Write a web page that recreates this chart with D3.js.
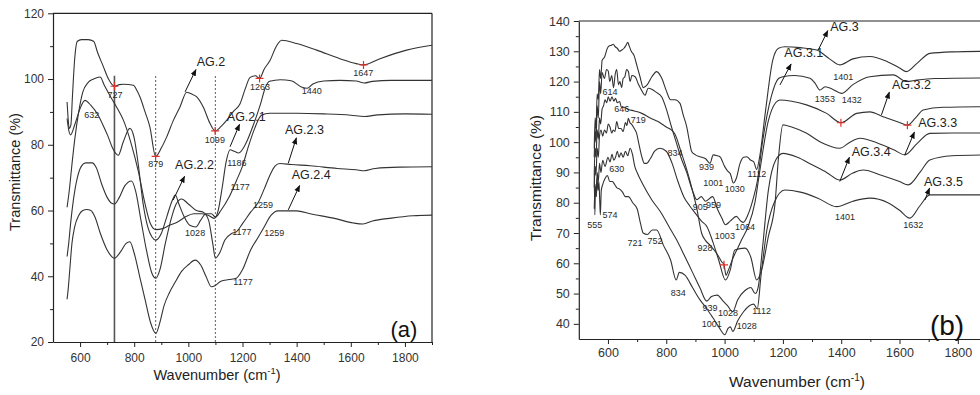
<!DOCTYPE html>
<html><head><meta charset="utf-8">
<script src="https://cdn.jsdelivr.net/npm/d3@7"></script>
<style>
body{margin:0;background:#fff;}
svg{display:block;}
text{font-family:Arial,"Liberation Sans",sans-serif;}
</style>
</head><body>
<svg id="chart" width="980" height="395"></svg>
<script>
// ---------- Panel (a) data: [wavenumber, transmittance] ----------
const ag2 = [[552,93],[555,89],[560,85],[566,86],[572,95],[580,106],[590,111.5],[605,112],[630,112],[650,111.5],[665,108],[685,104],[705,100],[727,97.8],[745,98.3],[760,98.4],[797,98.1],[810,96.5],[821,94.6],[840,90],[858,85.4],[879,76.5],[900,79],[920,82.4],[945,87.5],[969,91.5],[994,96],[1010,95.5],[1031,94.6],[1055,91.5],[1080,86.5],[1099,84.2],[1120,85.5],[1142,87.5],[1165,90],[1191,92.5],[1210,97],[1228,100.5],[1248,101],[1263,100.2],[1280,103],[1302,105.7],[1325,110],[1345,111.8],[1400,110.8],[1474,108.8],[1560,106.2],[1620,104.7],[1647,104.3],[1708,106.2],[1806,108.8],[1900,110.3]];
const ag21 = [[552,61],[560,66],[570,74],[580,81.4],[595,90],[610,96],[630,99],[650,100],[674,100.6],[690,98],[710,95],[727,92.6],[745,90],[760,87.5],[790,80],[815,72],[840,62],[860,56],[880,54.2],[905,54.5],[930,55.5],[960,56.5],[990,58.1],[1020,59],[1050,59],[1075,58.5],[1095,57.6],[1110,60],[1125,67],[1140,75],[1154,78.5],[1170,78],[1186,77.5],[1210,80],[1240,86],[1265,92],[1285,97.5],[1300,99.3],[1340,99.8],[1380,99.5],[1420,97.5],[1440,97.2],[1460,98.5],[1500,99.4],[1560,99.6],[1620,99.4],[1650,98.8],[1680,99.3],[1750,99.6],[1900,99.6]];
const ag22 = [[552,88],[558,84.5],[565,83],[580,86],[600,91],[618,93.5],[640,92],[667,89],[690,85],[704,82.4],[720,79],[741,76.8],[760,81],[784,85],[800,82],[815,74],[833,62],[850,55],[865,52],[880,51],[900,53],[920,58],[940,63],[952,64.7],[965,62],[985,58],[1005,55.5],[1028,55],[1045,57],[1065,59],[1085,59],[1100,58],[1120,60],[1150,64],[1177,69],[1200,73.5],[1220,79],[1245,85],[1270,89],[1300,89.6],[1400,89.6],[1500,89.4],[1600,89],[1650,88.6],[1700,89.1],[1800,89.4],[1900,89.3]];
const ag23 = [[552,46],[558,50],[565,56],[575,63],[590,70],[605,73.5],[620,74.5],[645,74.5],[660,73],[680,68],[700,64],[715,62.3],[727,62],[745,64],[765,67.5],[790,69],[805,66],[825,57],[845,48],[865,41],[880,39.4],[895,42],[915,50],[935,57],[955,62],[975,63.5],[1000,62],[1030,60],[1055,59.5],[1075,57],[1090,50],[1100,45.5],[1115,47],[1135,51],[1160,53],[1177,53.5],[1200,56],[1230,59.5],[1259,62.6],[1280,66.5],[1300,70.5],[1320,73.5],[1338,74.3],[1380,74],[1450,73.6],[1550,72.8],[1620,72.4],[1650,72.1],[1690,72.8],[1780,73.2],[1900,73.3]];
const ag24 = [[552,33],[556,36],[562,42],[570,50],[580,55],[595,58.5],[610,60],[625,60.3],[640,60],[655,58],[675,53],[700,48],[727,45.5],[750,47.5],[770,50],[784,50.5],[800,47],[820,40],[840,33],[860,26],[880,22.6],[895,26],[910,31],[930,35],[950,38],[975,41.5],[1000,43.5],[1025,44.9],[1045,43.5],[1065,40],[1085,36.8],[1100,37.2],[1120,38.5],[1150,39],[1177,39.4],[1200,42],[1230,48],[1259,52],[1280,55],[1305,58.5],[1331,59.9],[1400,59.9],[1450,59],[1540,57.6],[1610,56.2],[1645,55.9],[1680,56.8],[1750,57.7],[1830,58.4],[1900,58.6]];
const seriesA = ["AG.2","AG.2.1","AG.2.2","AG.2.3","AG.2.4"];

// ---------- Panel (b) data ----------
const ag3 = [[553,98],[556,108],[559,104],[563,116],[567,114],[571,124],[575,121],[580,127],[588,128],[598,131],[605,131.8],[612,132],[618,132.3],[625,131.5],[632,131],[640,130],[647,130.4],[655,131],[662,132],[668,133],[672,132],[680,130],[690,128.5],[700,125],[710,121.6],[721,118],[735,119],[750,121.5],[767,123.3],[785,121],[800,117],[815,114],[830,114],[847,112.8],[858,109],[870,105.1],[880,100],[887,96.9],[900,95.8],[915,95.2],[935,94.5],[950,93],[961,95.8],[975,95.5],[984,95.2],[1000,92],[1010,90.5],[1020,89.5],[1030,86.5],[1040,88],[1053,93],[1065,95],[1076,95.2],[1090,94],[1100,93.5],[1110,91],[1120,95],[1140,110],[1165,127],[1185,131],[1207,131.5],[1260,131.2],[1316,130.4],[1360,127.5],[1395,125.5],[1440,127.5],[1498,128.3],[1560,126.5],[1600,124.5],[1624,123.3],[1660,126],[1704,129.3],[1780,129.8],[1900,130]];
const ag31 = [[553,95],[556,104],[559,100],[563,112],[567,108],[571,120],[575,116],[580,123],[588,121],[595,124],[601,123.5],[606,120],[613,122],[619,118],[625,122.5],[630,124],[636,119],[641,120],[647,118],[652,121],[658,121.6],[664,124],[670,123.3],[676,120],[682,122],[693,121.6],[705,119],[716,117],[727,115.5],[738,117.8],[750,117.5],[765,116.5],[784,115],[800,111],[818,105],[834,100],[850,95],[870,90],[890,84],[905,81],[920,82],[935,80.5],[959,82],[975,78],[990,75],[1003,72.7],[1020,74],[1040,75.5],[1055,74],[1064,73.5],[1080,76],[1100,82],[1112,87],[1130,100],[1160,115],[1185,121],[1200,121.6],[1240,122],[1293,121.1],[1310,119.5],[1327,117.2],[1345,118.3],[1370,117.5],[1401,116.1],[1440,119],[1498,121.6],[1578,122.2],[1624,120],[1660,120.5],[1720,121],[1900,121.2]];
const ag32 = [[553,90],[556,98],[559,95],[563,104],[567,101],[571,108],[575,106],[580,111],[585,112],[590,114],[596,113],[601,115],[607,113.5],[614,115],[620,113.5],[626,114.5],[632,113],[640,113.4],[646,111.5],[655,111.5],[670,110.8],[690,110.3],[716,109.5],[745,108],[772,106.8],[800,105],[818,104],[830,102.6],[850,97],[870,91],[890,84],[905,78],[921,70],[935,67.5],[950,66],[975,63],[990,60.5],[998,59.5],[1005,56],[1012,57.5],[1030,62],[1045,65],[1058,67.7],[1080,72],[1104,80],[1120,90],[1150,107],[1175,113],[1190,113.9],[1230,113.5],[1281,112.3],[1350,109.5],[1399,106.4],[1453,109.5],[1498,110],[1544,108.4],[1600,106.5],[1627,105.6],[1655,108],[1681,110.6],[1750,111.5],[1900,111.7]];
const ag33 = [[553,85],[556,92],[559,89],[563,98],[567,95],[571,102],[576,104],[582,102],[588,104],[595,103],[601,106],[607,105],[613,103],[618,104],[624,103.5],[630,106.8],[637,104.5],[645,104.5],[652,103.5],[660,106.5],[665,105.5],[670,107.9],[675,106.5],[680,106],[690,104.5],[698,103],[707,99],[716,95.2],[725,93],[733,93],[745,94.5],[760,97],[778,98],[800,97],[820,93],[840,87],[860,82],[880,79],[900,76.5],[920,74],[940,72],[960,67],[980,61],[1003,54.5],[1020,58],[1035,64.4],[1070,65],[1090,62],[1110,54.5],[1127,57.8],[1150,68.8],[1173,79.8],[1185,95],[1200,105.7],[1230,105],[1280,103],[1330,100],[1395,98],[1430,100],[1464,101.3],[1530,99.5],[1580,97.5],[1618,95.8],[1660,99.5],[1704,102.9],[1780,103],[1900,103]];
const ag34 = [[553,78],[556,86],[559,82],[563,90],[567,87],[571,93],[576,90],[582,94],[590,92],[600,95],[607,93.5],[614,96],[620,94],[626,95],[632,97],[638,95],[645,96.5],[652,95],[660,97],[668,95.5],[676,98],[684,96],[692,92],[700,90],[720,86],[750,81],[780,77],[810,72],[834,68],[860,63],[890,57],[915,52],[939,47.5],[955,49],[975,49.5],[995,47.5],[1010,46],[1028,44],[1045,48],[1070,51],[1090,52],[1105,50],[1115,52],[1130,65],[1150,84],[1175,94],[1200,96.3],[1250,95],[1300,92.5],[1350,90],[1395,87.5],[1440,89.8],[1475,90.8],[1540,89],[1600,87],[1630,85.9],[1670,90],[1704,94.1],[1780,95.5],[1900,95.8]];
const ag35 = [[553,90],[555,76],[557,84],[560,82],[563,88],[566,84],[569,87],[572,80],[574,76],[577,84],[582,86],[590,88],[598,89],[606,87],[615,87],[623,86],[630,85],[640,84.5],[650,83.5],[660,82],[670,82],[685,80],[700,78],[712,73],[721,70],[735,69.5],[752,71],[767,71],[790,66],[815,61],[834,54.5],[845,57],[865,56],[890,52],[915,48],[939,45],[960,42],[980,39],[1001,36.4],[1012,38.5],[1020,39],[1028,37.5],[1045,41],[1065,44],[1085,46],[1100,46.5],[1112,45],[1125,56],[1145,71],[1170,80],[1207,84.2],[1260,83.5],[1320,81.5],[1384,78.7],[1440,80.5],[1498,81.5],[1560,80],[1600,77.5],[1635,74.9],[1670,79],[1704,82.6],[1800,82.6],[1900,82.6]];
const seriesB = ["AG.3","AG.3.1","AG.3.2","AG.3.3","AG.3.4","AG.3.5"];

// ---------- ticks ----------
const xTicks = [600,800,1000,1200,1400,1600,1800];
const xMinor = [700,900,1100,1300,1500,1700,1900];
const yTicksA = [20,40,60,80,100,120];
const yMinorA = [30,50,70,90,110];
const yTicksB = [40,50,60,70,80,90,100,110,120,130,140];
const yMinorB = [45,55,65,75,85,95,105,115,125,135];

// ---------- annotations (data units) ----------
const peakLabelsA = [["727",729,95.1],["879",880,74.2],["1099",1098,81.4],["1263",1265,97.7],["1647",1646,101.9],["1440",1456,96.4],["632",643,89.1],["1186",1179,74.5],["1177",1191,67.2],["1028",1025,53.3],["1177",1198,53.5],["1259",1276,61.7],["1259",1317,53.2],["1177",1202,38.2]];
const crossesA = [[727,97.8],[879,76.5],[1099,84.2],[1263,100.2],[1647,104.3]];
const vLinesA = [[727,"solid"],[879,"dot"],[1100,"dot"]];
// name, text x, text y, arrow from x, y, to x, y
const nameTagsA = [["AG.2",1031,105.3,988,96.1,1028,102.9],["AG.2.1",1142,88.5,1154,79.4,1189,86.2],["AG.2.2",951,73.9,944,63.2,986,70.4],["AG.2.3",1357,84.5,1369,74.4,1399,82.1],["AG.2.4",1382,70.8,1369,60.2,1411,67.6]];

const peakLabelsB = [["614",607,116.7],["646",647,111],["719",704,107.3],["834",830,96.5],["939",938,91.7],["630",630,91.2],["1001",961,86.4],["1030",1035,84.5],["1112",1111,89.5],["905",917,78.6],["959",962,79.2],["555",555,72.7],["574",607,76],["721",693,66.8],["752",761,67.4],["928",933,65.2],["1003",1001,69.1],["1064",1070,72.1],["834",841,50.3],["939",950,45.4],["1028",1012,43.5],["1001",956,40],["1028",1076,39.3],["1112",1127,44.3],["1401",1413,75.2],["1632",1647,72.7],["1401",1407,121.4],["1353",1344,114.2],["1432",1436,113.9]];
const crossesB = [[998,59.5],[1399,106.4],[1627,105.6]];
const nameTagsB = [["AG.3",1362,138.1,1321,130.4,1354,136.8],["AG.3.1",1205,129.3,1190,118.9,1228,125.8],["AG.3.2",1574,118.9,1538,109,1565,116.5],["AG.3.3",1664,106.2,1618,95.8,1651,103.3],["AG.3.4",1436,96.9,1395,87,1428,95],["AG.3.5",1684,87,1687,80.9,1703,84.8]];

const svg = d3.select("#chart");
const ink = "#333";

svg.append("defs").append("marker")
  .attr("id","arr").attr("viewBox","0 0 10 10").attr("refX",9).attr("refY",5)
  .attr("markerWidth",7).attr("markerHeight",7).attr("orient","auto")
  .append("path").attr("d","M0,1 L10,5 L0,9 Z").attr("fill","#111");

function panel(cfg){
  const g = svg.append("g");
  const x = d3.scaleLinear().domain(cfg.xd).range(cfg.xr);
  const y = d3.scaleLinear().domain(cfg.yd).range(cfg.yr);
  const clipId = "clip"+cfg.id;
  svg.select("defs").append("clipPath").attr("id",clipId).append("rect")
    .attr("x",cfg.xr[0]).attr("y",cfg.yr[1]).attr("width",cfg.xr[1]-cfg.xr[0]).attr("height",cfg.yr[0]-cfg.yr[1]);

  // frame
  g.append("line").attr("x1",cfg.xr[0]).attr("x2",Math.min(cfg.xr[1],980)).attr("y1",cfg.yr[1]).attr("y2",cfg.yr[1]).attr("stroke","#222").attr("stroke-width",1.2);
  if (cfg.xr[1] < 980) g.append("line").attr("x1",cfg.xr[1]).attr("x2",cfg.xr[1]).attr("y1",cfg.yr[1]).attr("y2",cfg.yr[0]).attr("stroke","#222").attr("stroke-width",1.2);

  const fmt = d3.format("d");
  // axes
  g.append("g").attr("transform",`translate(0,${cfg.yr[0]})`)
    .call(d3.axisBottom(x).tickValues(xTicks).tickFormat(fmt).tickSize(5).tickPadding(cfg.xpad).tickSizeOuter(0));
  g.append("g").attr("transform",`translate(0,${cfg.yr[0]})`)
    .call(d3.axisBottom(x).tickValues(xMinor.filter(v=>x(v)<980)).tickSize(3).tickFormat("").tickSizeOuter(0))
    .select(".domain").remove();
  g.append("g").attr("transform",`translate(${cfg.xr[0]},0)`)
    .call(d3.axisLeft(y).tickValues(cfg.yt).tickFormat(fmt).tickSize(5).tickPadding(cfg.ypad).tickSizeOuter(0));
  g.append("g").attr("transform",`translate(${cfg.xr[0]},0)`)
    .call(d3.axisLeft(y).tickValues(cfg.ym).tickSize(3).tickFormat("").tickSizeOuter(0))
    .select(".domain").remove();
  g.selectAll(".domain").attr("stroke","#222").attr("stroke-width",1.2);
  g.selectAll(".tick line").attr("stroke","#222");
  g.selectAll(".tick text").attr("font-size",cfg.tfs).attr("fill","#333").attr("font-family","Arial, 'Liberation Sans', sans-serif");

  // titles
  const xt = g.append("text").attr("x",cfg.xtitle[0]).attr("y",cfg.xtitle[1]).attr("text-anchor","middle")
    .attr("font-size",cfg.titleFs).attr("fill","#222");
  xt.append("tspan").text("Wavenumber (cm");
  xt.append("tspan").text("-1").attr("font-size",cfg.titleFs*0.65).attr("dy",-cfg.titleFs*0.4);
  xt.append("tspan").text(")").attr("dy",cfg.titleFs*0.4);
  g.append("text").attr("transform",`translate(${cfg.ytitle[0]},${cfg.ytitle[1]}) rotate(-90)`)
    .attr("text-anchor","middle").attr("dominant-baseline","central")
    .attr("font-size",cfg.titleFs).attr("fill","#222").text("Transmittance (%)");

  const plot = g.append("g").attr("clip-path",`url(#${clipId})`);

  // vertical reference lines
  (cfg.vlines||[]).forEach(([wn,style])=>{
    plot.append("line").attr("x1",x(wn)).attr("x2",x(wn)).attr("y1",y(cfg.yd[0])).attr("y2",y(101))
      .attr("stroke",style==="solid"?"#555":"#777").attr("stroke-width",style==="solid"?1.6:1.2)
      .attr("stroke-dasharray",style==="solid"?null:"2,2");
  });

  const line = d3.line().x(d=>x(d[0])).y(d=>y(d[1])).curve(d3.curveMonotoneX);
  cfg.series.forEach(s=>{
    plot.append("path").datum(s).attr("d",line).attr("fill","none").attr("stroke",ink).attr("stroke-width",1.1);
  });

  // peak labels
  cfg.labels.forEach(([t,wn,v])=>{
    g.append("text").attr("x",x(wn)).attr("y",y(v)).attr("text-anchor","middle").attr("dominant-baseline","central")
      .attr("font-size",cfg.lfs).attr("fill","#2a2a2a").text(t);
  });
  // red crosses
  cfg.crosses.forEach(([wn,v])=>{
    const cx=x(wn), cy=y(v);
    g.append("path").attr("d",`M${cx-4},${cy}H${cx+4}M${cx},${cy-4}V${cy+4}`).attr("stroke","#e0302a").attr("stroke-width",1.2);
  });
  // name tags with arrows
  cfg.tags.forEach(([t,tx,ty,fx,fy,ex,ey])=>{
    g.append("line").attr("x1",x(fx)).attr("y1",y(fy)).attr("x2",x(ex)).attr("y2",y(ey))
      .attr("stroke","#111").attr("stroke-width",1).attr("marker-end","url(#arr)");
    g.append("text").attr("x",x(tx)).attr("y",y(ty)).attr("dominant-baseline","central")
      .attr("font-size",cfg.nfs).attr("fill","#222").text(t);
  });
  // panel letter
  g.append("text").attr("x",cfg.letter[0]).attr("y",cfg.letter[1]).attr("text-anchor","middle").attr("dominant-baseline","central")
    .attr("font-size",cfg.letter[3]).attr("font-family","'DejaVu Sans', sans-serif").attr("fill","#111").text(cfg.letter[2]);
}

panel({id:"a", xd:[500,1900], xr:[53,432], yd:[20,120], yr:[342,13.3],
  yt:yTicksA, ym:yMinorA, xpad:6, ypad:4, tfs:12,
  series:[ag2,ag21,ag22,ag23,ag24], vlines:vLinesA,
  labels:peakLabelsA, crosses:crossesA, tags:nameTagsA, lfs:9, nfs:12.5, titleFs:14.5,
  xtitle:[217,380], ytitle:[15,172], letter:[404,329,"(a)",22]});

panel({id:"b", xd:[500,1900], xr:[578.8,987], yd:[35,140], yr:[339,21],
  yt:yTicksB, ym:yMinorB, xpad:4, ypad:4, tfs:12.5,
  series:[ag3,ag31,ag32,ag33,ag34,ag35], vlines:[],
  labels:peakLabelsB, crosses:crossesB, tags:nameTagsB, lfs:9, nfs:12.5, titleFs:15.5,
  xtitle:[797,387], ytitle:[535,178], letter:[947,325,"(b)",28]});
</script>
</body></html>
